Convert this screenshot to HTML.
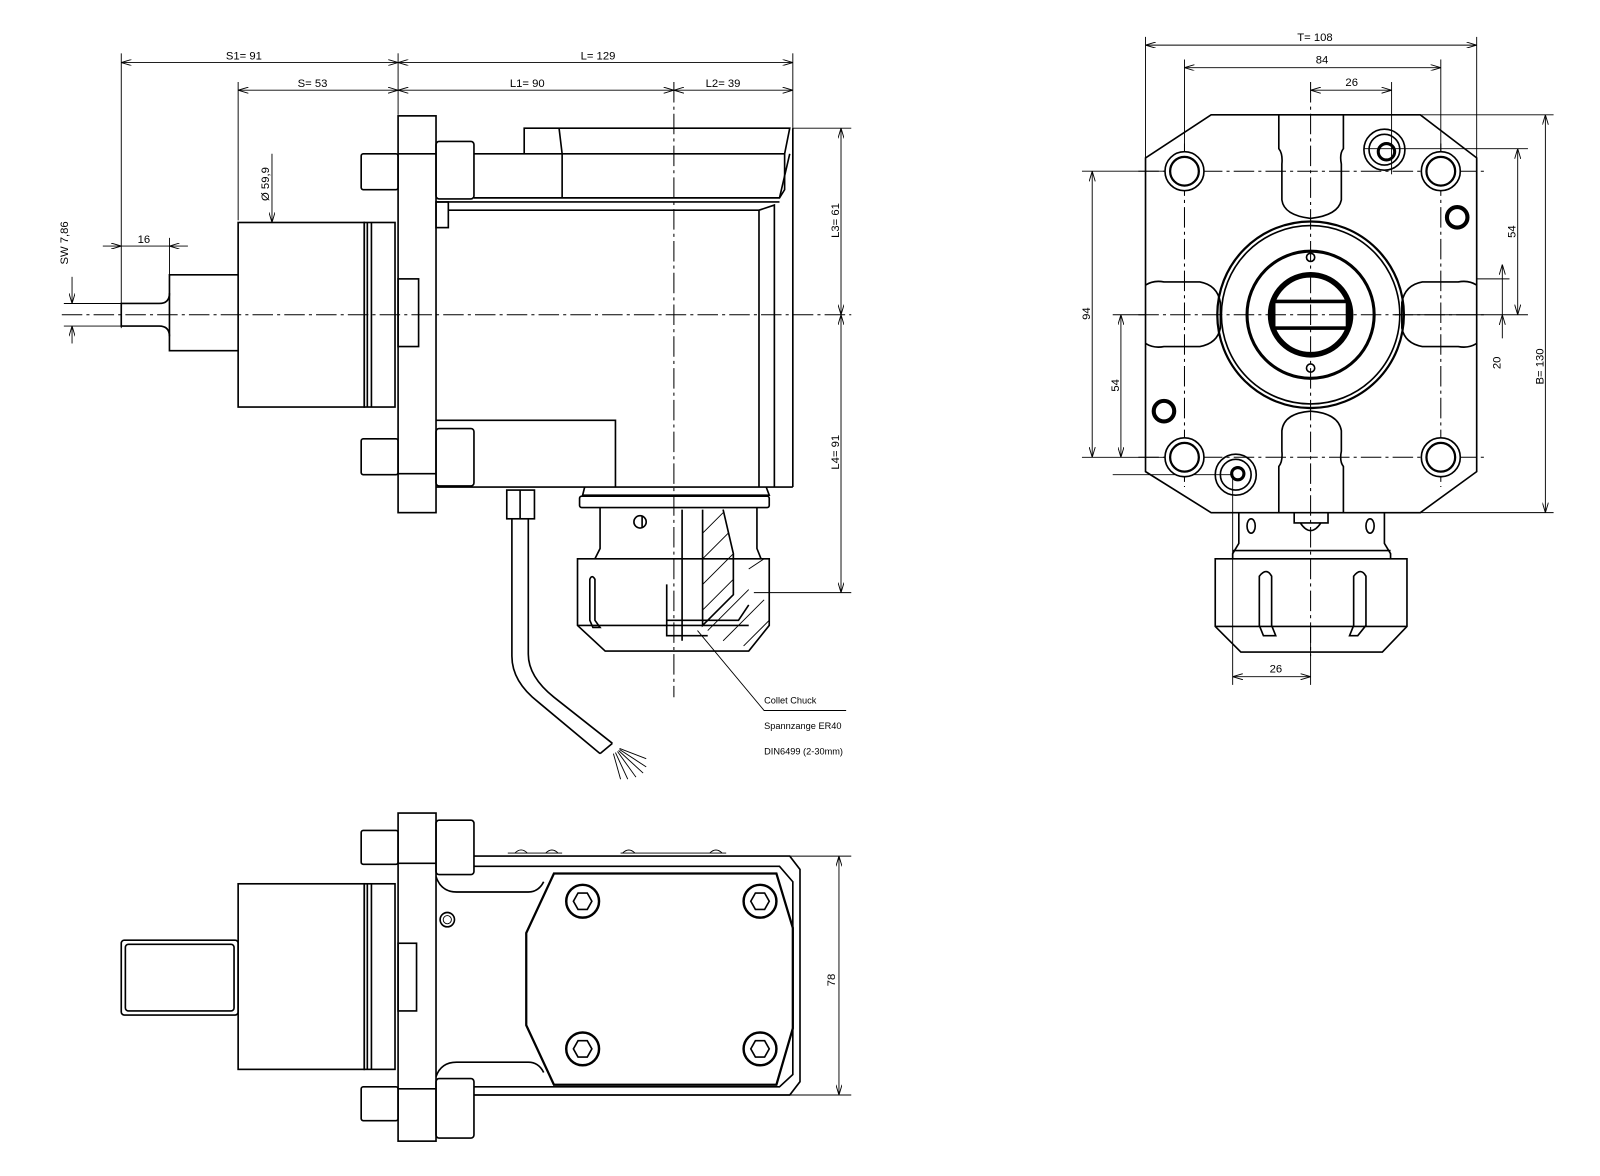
<!DOCTYPE html>
<html><head><meta charset="utf-8"><style>
html,body{margin:0;padding:0;background:#fff;}
svg{display:block;}
text{font-family:"Liberation Sans",sans-serif;font-size:11px;fill:#000;}
.s{fill:none;stroke:#000;stroke-width:1.6;}
.t{fill:none;stroke:#000;stroke-width:3;}
.th{fill:none;stroke:#000;stroke-width:0.9;}
.c{fill:none;stroke:#000;stroke-width:1;stroke-dasharray:20 4 3 4;}
.w{fill:#fff;stroke:#000;stroke-width:1.6;}
</style></head><body>
<svg width="1600" height="1176" viewBox="0 0 1560 1147" xmlns="http://www.w3.org/2000/svg">
<defs><marker id="a" markerWidth="10" markerHeight="6" refX="10" refY="3" orient="auto-start-reverse" markerUnits="userSpaceOnUse"><path d="M0,0 L10,3 L0,6" fill="none" stroke="#000" stroke-width="0.9"/></marker></defs>

<g class="th">
<line x1="118" y1="52" x2="118" y2="320"/><line x1="232" y1="80" x2="232" y2="215"/>
<line x1="388" y1="52" x2="388" y2="112"/><line x1="773" y1="52" x2="773" y2="125"/>
<line x1="118" y1="61" x2="388" y2="61" marker-start="url(#a)" marker-end="url(#a)"/>
<line x1="388" y1="61" x2="773" y2="61" marker-start="url(#a)" marker-end="url(#a)"/>
<line x1="232" y1="88" x2="388" y2="88" marker-start="url(#a)" marker-end="url(#a)"/>
<line x1="388" y1="88" x2="657" y2="88" marker-start="url(#a)" marker-end="url(#a)"/>
<line x1="657" y1="88" x2="773" y2="88" marker-start="url(#a)" marker-end="url(#a)"/>
<line x1="773" y1="125" x2="830" y2="125"/><line x1="735" y1="578" x2="830" y2="578"/>
<line x1="820" y1="125" x2="820" y2="307" marker-start="url(#a)" marker-end="url(#a)"/>
<line x1="820" y1="307" x2="820" y2="578" marker-start="url(#a)" marker-end="url(#a)"/>
<line x1="165" y1="232" x2="165" y2="268"/>
<line x1="100" y1="240" x2="118" y2="240" marker-end="url(#a)"/>
<line x1="183" y1="240" x2="165" y2="240" marker-end="url(#a)"/>
<line x1="118" y1="240" x2="165" y2="240"/>
<line x1="62" y1="296" x2="118" y2="296"/><line x1="62" y1="318" x2="118" y2="318"/>
<line x1="70" y1="270" x2="70" y2="296" marker-end="url(#a)"/>
<line x1="70" y1="335" x2="70" y2="318" marker-end="url(#a)"/>
<line x1="265" y1="150" x2="265" y2="217" marker-end="url(#a)"/>
</g>
<text x="220" y="58">S1=  91</text><text x="566" y="58">L=  129</text>
<text x="290" y="85">S=  53</text><text x="497" y="85">L1=  90</text><text x="688" y="85">L2=  39</text>
<text x="134" y="237">16</text>
<text transform="translate(66,258) rotate(-90)">SW 7,86</text>
<text transform="translate(262,196) rotate(-90)">Ø 59,9</text>
<text transform="translate(818,232) rotate(-90)">L3=  61</text>
<text transform="translate(818,458) rotate(-90)">L4=  91</text>

<line class="c" x1="60" y1="307" x2="830" y2="307"/>
<line class="c" x1="657" y1="80" x2="657" y2="680"/>

<path class="s" d="M232,268 H165 V342 H232"/>
<path class="s" d="M165,286 Q165,296 155,296 H118 V318 H155 Q165,318 165,328"/>
<rect class="s" x="232" y="217" width="123" height="180"/>
<rect class="s" x="355" y="217" width="30" height="180"/>
<line class="s" x1="358" y1="217" x2="358" y2="397"/><line class="s" x1="362" y1="217" x2="362" y2="397"/>
<rect class="s" x="352" y="150" width="36" height="35" rx="2"/>
<rect class="s" x="352" y="428" width="36" height="35" rx="2"/>
<rect class="s" x="388" y="113" width="37" height="387"/>
<line class="s" x1="388" y1="150" x2="425" y2="150"/><line class="s" x1="388" y1="462" x2="425" y2="462"/>
<rect class="s" x="388" y="272" width="20" height="66"/>
<rect class="s" x="425" y="138" width="37" height="56" rx="3"/>
<rect class="s" x="425" y="418" width="37" height="56" rx="3"/>
<path class="s" d="M462,150 H511 V125 H770 L765,150 H462 M545,125 L548,150 V193 M462,193 H760 L765,185 V150"/>
<path class="s" d="M760,193 L770,150 M773,125 V475"/>
<path class="s" d="M425,197 H760 M437,205 H740 V475 M740,205 L755,200 V475"/>
<rect class="s" x="425" y="197" width="12" height="25"/>
<line class="s" x1="425" y1="475" x2="773" y2="475"/>
<path class="s" d="M425,410 H600 V475"/>
<path class="s" d="M570,475 L568,483 H750 L747,475"/>
<rect class="s" x="565" y="484" width="185" height="11" rx="2"/>
<path class="s" d="M585,495 V535 L580,545 M738,495 V535 L742,545"/>
<circle class="s" cx="624" cy="509" r="6"/><line class="s" x1="626" y1="503" x2="626" y2="515"/>
<path class="s" d="M563,545 H750 V610 L730,635 H590 L563,610 Z"/>
<line class="s" x1="563" y1="610" x2="730" y2="610"/>
<path class="s" d="M575,565 Q577,560 580,565 V605 L585,612 H578 L575,605 Z"/>
<path class="s" d="M650,570 V620 H690 M650,605 H720 L730,590"/>
<path class="s" d="M665,497 V625 M685,497 V610 L715,580 V540 L705,497"/>
<g class="th">
<line x1="685" y1="520" x2="705" y2="500"/><line x1="685" y1="545" x2="710" y2="520"/>
<line x1="685" y1="570" x2="715" y2="540"/><line x1="685" y1="595" x2="715" y2="565"/>
<line x1="690" y1="615" x2="730" y2="575"/><line x1="705" y1="625" x2="745" y2="585"/>
<line x1="725" y1="630" x2="750" y2="605"/><line x1="730" y1="555" x2="745" y2="545"/>
</g>
<path class="th" d="M680,615 L745,693 H825"/>
<text x="745" y="686" style="font-size:9px">Collet Chuck</text>
<text x="745" y="711" style="font-size:9px">Spannzange ER40</text>
<text x="745" y="736" style="font-size:9px">DIN6499 (2-30mm)</text>
<rect class="s" x="494" y="478" width="27" height="28"/>
<line class="s" x1="507" y1="478" x2="507" y2="506"/>
<path class="s" d="M499,506 V640 Q499,665 525,685 L585,735 M515,506 V638 Q515,660 540,680 L597,725"/>
<line class="s" x1="585" y1="735" x2="597" y2="725"/>
<g class="th"><line x1="598" y1="735" x2="605" y2="760"/><line x1="600" y1="734" x2="612" y2="760"/><line x1="602" y1="733" x2="620" y2="758"/><line x1="603" y1="732" x2="627" y2="754"/><line x1="604" y1="731" x2="630" y2="748"/><line x1="604" y1="730" x2="630" y2="740"/></g>

<g class="th">
<line x1="1117" y1="36" x2="1117" y2="160"/><line x1="1440" y1="36" x2="1440" y2="160"/>
<line x1="1155" y1="58" x2="1155" y2="150"/><line x1="1405" y1="58" x2="1405" y2="150"/>
<line x1="1357" y1="80" x2="1357" y2="170"/>
<line x1="1117" y1="44" x2="1440" y2="44" marker-start="url(#a)" marker-end="url(#a)"/>
<line x1="1155" y1="66" x2="1405" y2="66" marker-start="url(#a)" marker-end="url(#a)"/>
<line x1="1278" y1="88" x2="1357" y2="88" marker-start="url(#a)" marker-end="url(#a)"/>
<line x1="1385" y1="112" x2="1515" y2="112"/><line x1="1385" y1="500" x2="1515" y2="500"/>
<line x1="1330" y1="145" x2="1490" y2="145"/><line x1="1360" y1="307" x2="1490" y2="307"/>
<line x1="1440" y1="272" x2="1472" y2="272"/>
<line x1="1507" y1="112" x2="1507" y2="500" marker-start="url(#a)" marker-end="url(#a)"/>
<line x1="1480" y1="145" x2="1480" y2="307" marker-start="url(#a)" marker-end="url(#a)"/>
<line x1="1465" y1="272" x2="1465" y2="258" marker-end="url(#a)"/>
<line x1="1465" y1="272" x2="1465" y2="307"/>
<line x1="1465" y1="330" x2="1465" y2="307" marker-end="url(#a)"/>
<line x1="1055" y1="167" x2="1140" y2="167"/><line x1="1055" y1="446" x2="1140" y2="446"/>
<line x1="1085" y1="307" x2="1117" y2="307"/><line x1="1085" y1="463" x2="1200" y2="463"/>
<line x1="1065" y1="167" x2="1065" y2="446" marker-start="url(#a)" marker-end="url(#a)"/>
<line x1="1093" y1="307" x2="1093" y2="446" marker-start="url(#a)" marker-end="url(#a)"/>
<line x1="1202" y1="462" x2="1202" y2="668"/><line x1="1278" y1="610" x2="1278" y2="668"/>
<line x1="1202" y1="660" x2="1278" y2="660" marker-start="url(#a)" marker-end="url(#a)"/>
</g>
<text x="1265" y="40">T= 108</text><text x="1283" y="62">84</text><text x="1312" y="84">26</text>
<text x="1238" y="656">26</text>
<text transform="translate(1505,375) rotate(-90)">B= 130</text>
<text transform="translate(1478,232) rotate(-90)">54</text>
<text transform="translate(1463,360) rotate(-90)">20</text>
<text transform="translate(1063,312) rotate(-90)">94</text>
<text transform="translate(1091,382) rotate(-90)">54</text>

<path class="s" d="M1181,112 H1385 L1440,154 V460 L1385,500 H1181 L1117,460 V154 Z"/>
<path class="s" d="M1247,112 V145 Q1251,150 1250,160 V195 Q1252,210 1278,213 Q1305,210 1308,195 V160 Q1306,150 1310,145 V112"/>
<path class="s" d="M1247,500 V455 Q1251,450 1250,440 V420 Q1252,403 1278,401 Q1305,403 1308,420 V440 Q1306,450 1310,455 V500"/>
<path class="s" d="M1117,278 Q1125,273 1135,275 H1170 Q1187,278 1190,295 V320 Q1187,335 1170,338 H1135 Q1125,340 1117,335"/>
<path class="s" d="M1440,278 Q1432,273 1422,275 H1387 Q1370,278 1367,295 V320 Q1370,335 1387,338 H1422 Q1432,340 1440,335"/>
<g class="c"><line x1="1110" y1="167" x2="1450" y2="167"/><line x1="1110" y1="307" x2="1450" y2="307"/><line x1="1110" y1="446" x2="1450" y2="446"/>
<line x1="1155" y1="140" x2="1155" y2="475"/><line x1="1278" y1="80" x2="1278" y2="640"/><line x1="1405" y1="140" x2="1405" y2="475"/></g>
<g>
<circle class="w" cx="1155" cy="167" r="19"/><circle cx="1155" cy="167" r="14" style="fill:none;stroke:#000;stroke-width:2.2"/>
<circle class="w" cx="1405" cy="167" r="19"/><circle cx="1405" cy="167" r="14" style="fill:none;stroke:#000;stroke-width:2.2"/>
<circle class="w" cx="1155" cy="446" r="19"/><circle cx="1155" cy="446" r="14" style="fill:none;stroke:#000;stroke-width:2.2"/>
<circle class="w" cx="1405" cy="446" r="19"/><circle cx="1405" cy="446" r="14" style="fill:none;stroke:#000;stroke-width:2.2"/></g>
<circle class="s" cx="1350" cy="146" r="20"/><circle class="s" cx="1350" cy="146" r="15"/><circle class="t" cx="1352" cy="148" r="8"/>
<circle class="s" cx="1205" cy="463" r="20"/><circle class="s" cx="1205" cy="463" r="15"/><circle class="t" cx="1207" cy="462" r="6"/>
<circle cx="1421" cy="212" r="10" style="fill:none;stroke:#000;stroke-width:4"/><circle cx="1135" cy="401" r="10" style="fill:none;stroke:#000;stroke-width:4"/>
<circle cx="1278" cy="307" r="91" style="fill:none;stroke:#000;stroke-width:2.2"/><circle class="s" cx="1278" cy="307" r="87"/>
<circle cx="1278" cy="307" r="62" style="fill:none;stroke:#000;stroke-width:3"/>
<circle cx="1278" cy="307" r="39" style="fill:none;stroke:#000;stroke-width:5.5"/>
<rect x="1242" y="294" width="72" height="26" style="fill:none;stroke:#000;stroke-width:3.5"/>
<circle class="s" cx="1278" cy="251" r="4"/><circle class="s" cx="1278" cy="359" r="4"/>
<path class="s" d="M1208,500 V530 L1202,540 V545 M1350,500 V530 L1356,540 V545 M1202,537 H1356"/>
<ellipse class="s" cx="1220" cy="513" rx="4" ry="7"/><ellipse class="s" cx="1336" cy="513" rx="4" ry="7"/>
<path class="s" d="M1262,500 V510 H1295 V500 M1268,510 Q1278,525 1288,510"/>
<path class="s" d="M1185,545 H1372 V611 L1348,636 H1210 L1185,611 Z"/><line class="s" x1="1185" y1="611" x2="1372" y2="611"/>
<path class="s" d="M1228,562 Q1235,553 1240,562 V610 L1244,620 H1232 L1228,610 Z"/>
<path class="s" d="M1320,562 Q1327,553 1332,562 V610 L1324,620 H1316 L1320,610 Z"/>

<g class="th">
<line x1="770" y1="835" x2="830" y2="835"/><line x1="770" y1="1068" x2="830" y2="1068"/>
<line x1="818" y1="835" x2="818" y2="1068" marker-start="url(#a)" marker-end="url(#a)"/>
</g>
<text transform="translate(814,962) rotate(-90)">78</text>
<rect class="s" x="118" y="917" width="114" height="73" rx="3"/>
<rect class="s" x="122" y="921" width="106" height="65" rx="3"/>
<rect class="s" x="232" y="862" width="123" height="181"/>
<rect class="s" x="355" y="862" width="30" height="181"/>
<line class="s" x1="358" y1="862" x2="358" y2="1043"/><line class="s" x1="362" y1="862" x2="362" y2="1043"/>
<rect class="s" x="352" y="810" width="36" height="33" rx="2"/>
<rect class="s" x="352" y="1060" width="36" height="33" rx="2"/>
<rect class="s" x="388" y="793" width="37" height="320"/>
<line class="s" x1="388" y1="842" x2="425" y2="842"/><line class="s" x1="388" y1="1062" x2="425" y2="1062"/>
<rect class="s" x="388" y="920" width="18" height="66"/>
<rect class="s" x="425" y="800" width="37" height="53" rx="3"/>
<rect class="s" x="425" y="1052" width="37" height="58" rx="3"/>
<path class="s" d="M462,835 H770 L780,848 V1055 L770,1068 H462 M462,845 H760 L773,860 V1048 L760,1060 H462"/>
<path class="s" d="M425,855 Q430,870 445,870 H515 Q525,870 530,860 M425,1050 Q430,1036 445,1036 H515 Q525,1036 530,1046"/>
<path d="M540,852 H757 L773,905 V1003 L757,1058 H540 L513,1000 V910 Z" style="fill:none;stroke:#000;stroke-width:2.2"/>
<g class="th"><path d="M502,832 Q508,826 514,832 M532,832 Q538,826 544,832 M607,832 Q613,826 619,832 M692,832 Q698,826 704,832"/><line x1="495" y1="832" x2="548" y2="832"/><line x1="605" y1="832" x2="708" y2="832"/></g>
<circle class="s" cx="436" cy="897" r="7"/><circle class="th" cx="436" cy="897" r="4"/>
<g>
<circle cx="568" cy="879" r="16" style="fill:none;stroke:#000;stroke-width:2.4"/><polygon class="s" points="577,879 572.5,887 563.5,887 559,879 563.5,871 572.5,871"/>
<circle cx="741" cy="879" r="16" style="fill:none;stroke:#000;stroke-width:2.4"/><polygon class="s" points="750,879 745.5,887 736.5,887 732,879 736.5,871 745.5,871"/>
<circle cx="568" cy="1023" r="16" style="fill:none;stroke:#000;stroke-width:2.4"/><polygon class="s" points="577,1023 572.5,1031 563.5,1031 559,1023 563.5,1015 572.5,1015"/>
<circle cx="741" cy="1023" r="16" style="fill:none;stroke:#000;stroke-width:2.4"/><polygon class="s" points="750,1023 745.5,1031 736.5,1031 732,1023 736.5,1015 745.5,1015"/>
</g>
</svg>
</body></html>
